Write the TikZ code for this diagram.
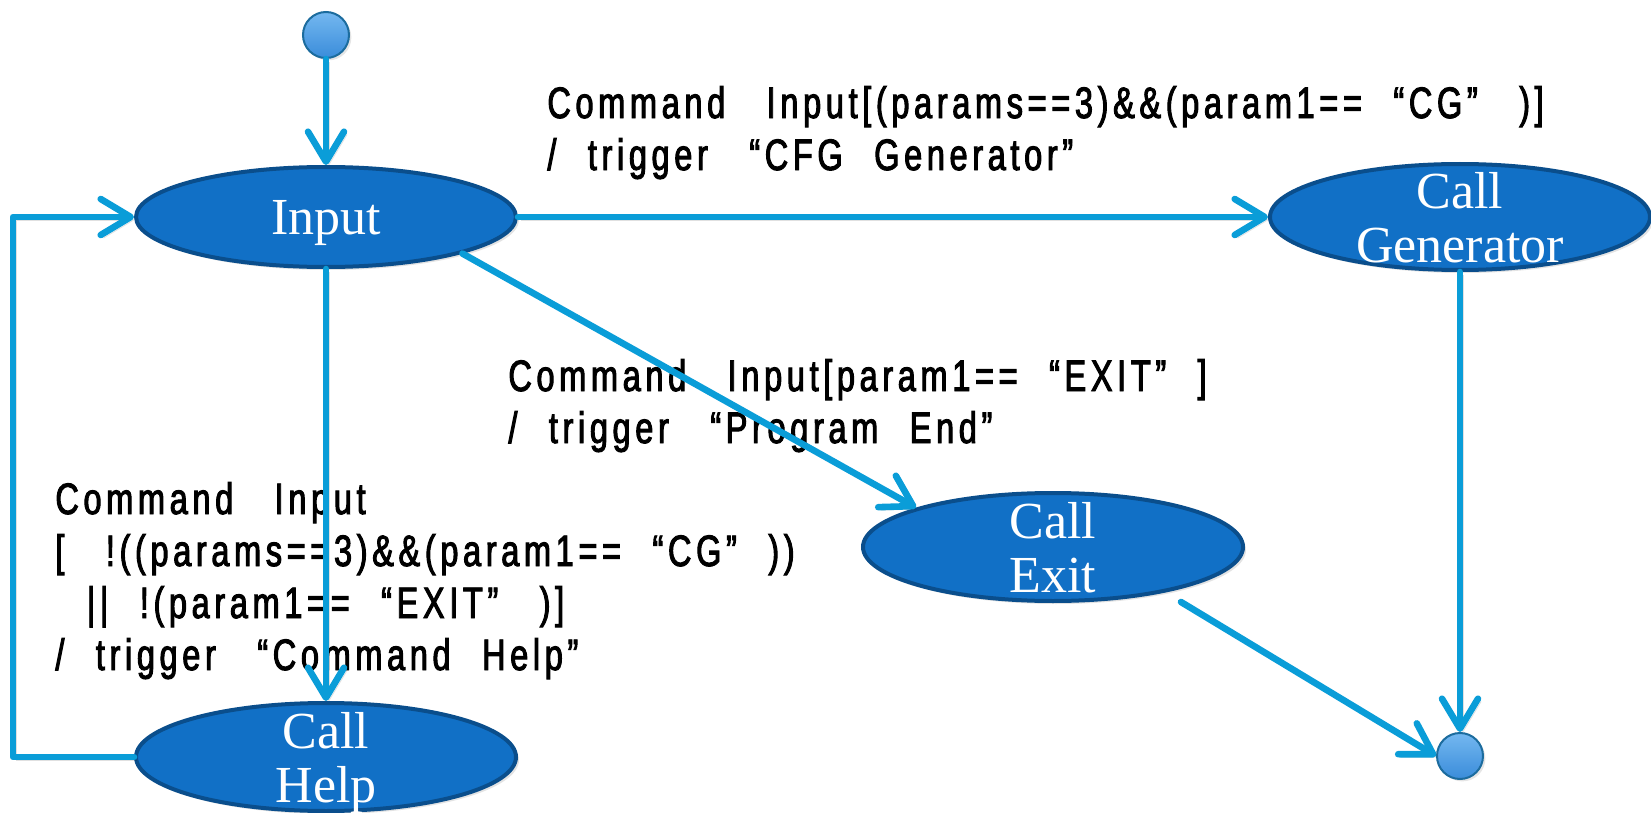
\documentclass[tikz,border=0pt]{standalone}
\usepackage{fontspec}
\setmainfont{Liberation Serif}
\newfontfamily\guardfont[FakeStretch=0.74,FakeBold=2.2,LetterSpace=10.5,WordSpace=2.3]{Liberation Sans}
\newcommand\widegap{\ \hspace{5pt}}
\usetikzlibrary{arrows.meta,shapes.geometric,shadows}

\definecolor{flow}{HTML}{0A9DD8}
\definecolor{statefill}{HTML}{1170C6}
\definecolor{stateedge}{HTML}{0A4E8C}
\definecolor{dotedge}{HTML}{1C6C9E}
\definecolor{dottop}{HTML}{74B8F0}
\definecolor{dotbot}{HTML}{3A8CDA}

\begin{document}
\begin{tikzpicture}[x=0.5pt,y=-0.5pt,
  state/.style={ellipse, draw=stateedge, line width=2pt, fill=statefill,
    inner sep=0pt, minimum width=190pt,
    drop shadow={opacity=0.22,shadow xshift=1.5pt,shadow yshift=-1.5pt}},
  stext/.style={font=\fontsize{26}{27}\selectfont, text=white, align=center,
    inner sep=0pt, text depth=0pt},
  dot/.style={circle, draw=dotedge, line width=1pt, top color=dottop,
    bottom color=dotbot, minimum size=23pt, inner sep=0pt,
    drop shadow={opacity=0.2,shadow xshift=1.2pt,shadow yshift=-1.2pt}},
  flowline/.style={draw=flow, line width=3.3pt, line cap=round, line join=round,
    -{Straight Barb[length=15pt,width=18pt,round]},
    preaction={draw=black, opacity=0.12,
      transform canvas={xshift=1.5pt,yshift=-1.5pt}}},
  guard/.style={font=\guardfont\fontsize{22}{26}\selectfont, align=left,
    inner sep=0pt, anchor=base west}
]
\useasboundingbox (0,0) rectangle (1651,813);
\fill[white] (0,0) rectangle (1651,813);

% transition guards (anchored at the baseline of their last line)
\node[guard] (g1) at (547,170)
  {Command\widegap Input[(params==3)\&\&(param1==\ “CG”\widegap)]\\/ trigger\widegap “CFG Generator”};
\node[guard] (g2) at (508,443)
  {Command\widegap Input[param1==\ “EXIT”\ ]\\/ trigger\widegap “Program End”};
\node[guard] (g3) at (55,670)
  {Command\widegap Input\\{[}\widegap !((params==3)\&\&(param1==\ “CG”\ ))\\\ ||\ !(param1==\ “EXIT”\widegap)]\\/ trigger\widegap “Command Help”};

% states
\node[dot] (start) at (326,35) {};
\node[state, minimum height=50pt, label={[stext]center:Input}] (input) at (326,217) {};
\node[state, minimum height=53pt, label={[stext]center:{Call\\Generator}}] (gen) at (1460,217) {};
\node[state, minimum height=54pt, label={[stext]center:{Call\\Exit}}] (exit) at (1053,547) {};
\node[state, minimum height=54pt, label={[stext]center:{Call\\Help}}] (help) at (326,757) {};
\node[dot] (final) at (1460,756) {};

% free ends of the connectors
\coordinate (exitout) at (1181,602);
\coordinate (loopbot) at (13,757);

% transitions
\draw[flowline] (start.south) -- (input.north);
\draw[flowline] (input.east) -- (gen.west);
\draw[flowline] (input.-15) -- (exit.164);
\draw[flowline] (input.south) -- (help.north);
\draw[flowline] (help.west) -- (loopbot) |- (input.west);
\draw[flowline] (gen.south) -- (final.north);
\draw[flowline] (exitout) -- (final.west);
\end{tikzpicture}
\end{document}
